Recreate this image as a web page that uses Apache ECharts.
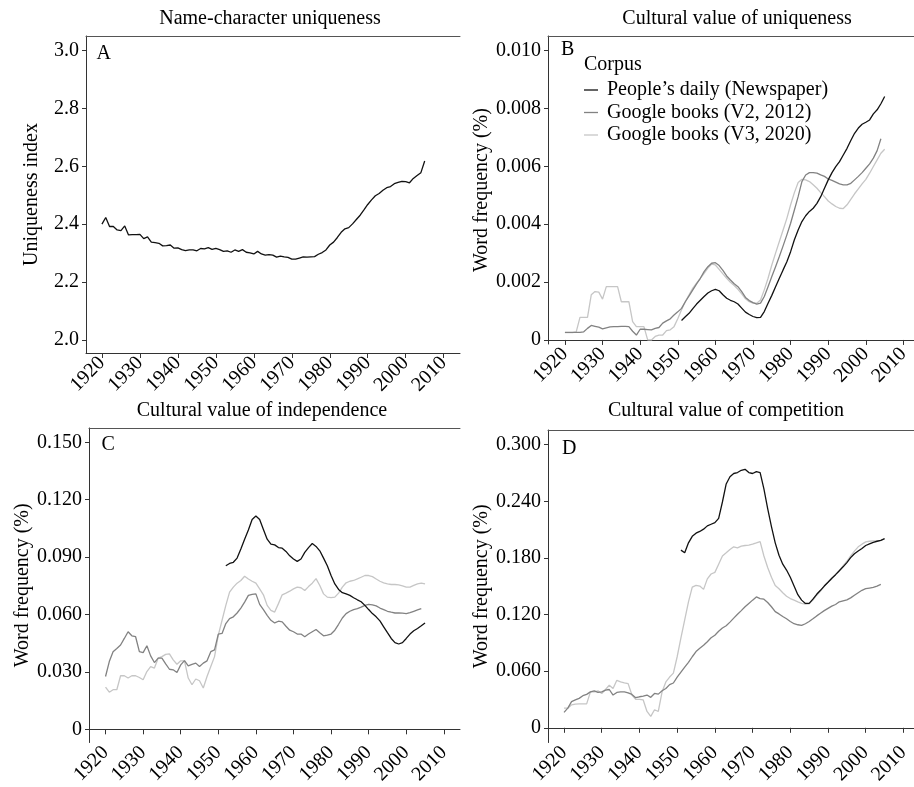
<!DOCTYPE html>
<html><head><meta charset="utf-8">
<script src="https://cdn.jsdelivr.net/npm/echarts@6/dist/echarts.min.js"></script>
<style>html,body{margin:0;padding:0;background:#fff}#c{width:914px;height:787px}</style>
</head><body><div id="c"></div>
<script>
// ---------- data ----------
const xTicks = [1920,1930,1940,1950,1960,1970,1980,1990,2000,2010];
const seriesNames = ["People\u2019s daily (Newspaper)", "Google books (V2, 2012)", "Google books (V3, 2020)"];

// Panel A: name-character uniqueness, 1920-2005
const uniqStart = 1920;
const uniqA = [2.400,2.423,2.392,2.392,2.380,2.378,2.394,2.363,2.364,2.364,
2.365,2.350,2.356,2.338,2.336,2.334,2.325,2.326,2.328,2.317,
2.318,2.312,2.309,2.311,2.311,2.308,2.316,2.315,2.319,2.313,
2.316,2.312,2.306,2.308,2.303,2.311,2.306,2.312,2.303,2.301,
2.297,2.306,2.297,2.293,2.295,2.293,2.286,2.290,2.287,2.285,
2.279,2.279,2.283,2.287,2.286,2.287,2.288,2.296,2.302,2.311,
2.328,2.338,2.354,2.372,2.384,2.388,2.401,2.416,2.431,2.449,
2.468,2.484,2.498,2.506,2.517,2.526,2.530,2.540,2.544,2.548,
2.547,2.543,2.558,2.568,2.578,2.618];
const yTicksA = [2.0,2.2,2.4,2.6,2.8,3.0];

// Panel B: uniqueness word frequency
const bDailyStart = 1951;
const bDaily = [.00067,.00080,.00092,.00108,.00124,.00137,.00150,.00162,.00170,.00175,
.00170,.00156,.00144,.00137,.00132,.00124,.00110,.00096,.00088,.00081,
.00077,.00078,.00098,.00127,.00154,.00184,.00213,.00242,.00270,.00305,
.00346,.00380,.00409,.00429,.00444,.00455,.00472,.00495,.00524,.00553,
.00578,.00599,.00616,.00639,.00662,.00689,.00714,.00732,.00745,.00752,
.00760,.00781,.00795,.00816,.00841];
const bV2Start = 1920;
const bV2 = [.00026,.00026,.00026,.00026,.00026,.00028,.00040,.00050,.00047,.00044,
.00038,.00042,.00045,.00046,.00046,.00047,.00047,.00046,.00030,.00017,
.00037,.00037,.00036,.00035,.00040,.00043,.00058,.00066,.00073,.00086,
.00097,.00109,.00132,.00152,.00173,.00194,.00213,.00236,.00253,.00265,
.00267,.00257,.00240,.00221,.00207,.00194,.00184,.00167,.00147,.00136,
.00129,.00124,.00127,.00150,.00184,.00219,.00253,.00288,.00325,.00363,
.00403,.00449,.00495,.00547,.00570,.00578,.00578,.00576,.00570,.00565,
.00556,.00551,.00545,.00539,.00536,.00536,.00541,.00553,.00565,.00578,
.00593,.00608,.00628,.00654,.00695];
const bV3Start = 1920;
const bV3 = [.00025,.00025,.00025,.00028,.00078,.00078,.00078,.00156,.00167,.00165,
.00141,.00184,.00184,.00184,.00184,.00132,.00132,.00132,.00063,.00046,
.00046,.00046,.00000,.00000,.00012,.00017,.00017,.00032,.00035,.00046,
.00073,.00104,.00132,.00156,.00179,.00196,.00213,.00230,.00248,.00262,
.00259,.00244,.00228,.00213,.00199,.00188,.00175,.00159,.00142,.00132,
.00127,.00127,.00138,.00173,.00213,.00259,.00300,.00340,.00380,.00420,
.00467,.00509,.00544,.00555,.00553,.00547,.00536,.00524,.00509,.00495,
.00480,.00470,.00461,.00455,.00454,.00467,.00486,.00505,.00522,.00539,
.00555,.00576,.00599,.00622,.00645,.00659];
const yTicksB = [0,0.002,0.004,0.006,0.008,0.010];

// Panel C: independence
const cDailyStart = 1952;
const cDaily = [.0855,.0867,.0873,.0895,.0942,.0994,.1042,.1097,.1115,
.1097,.1045,.0994,.0968,.0964,.0950,.0947,.0930,.0907,.0890,
.0878,.0890,.0925,.0950,.0971,.0956,.0933,.0895,.0855,.0804,
.0760,.0731,.0714,.0708,.0700,.0688,.0677,.0667,.0648,.0626,
.0605,.0588,.0567,.0536,.0505,.0475,.0453,.0446,.0453,.0475,
.0498,.0515,.0527,.0541,.0556];
const cV2Start = 1920;
const cV2 = [.0276,.0354,.0406,.0423,.0441,.0475,.0510,.0489,.0484,.0406,
.0401,.0437,.0384,.0349,.0372,.0372,.0342,.0314,.0311,.0297,
.0337,.0359,.0332,.0340,.0346,.0328,.0346,.0358,.0406,.0415,
.0498,.0501,.0553,.0579,.0588,.0608,.0634,.0665,.0700,.0705,
.0708,.0653,.0626,.0596,.0570,.0556,.0565,.0562,.0539,.0518,
.0510,.0498,.0498,.0484,.0498,.0510,.0522,.0505,.0489,.0492,
.0498,.0518,.0549,.0582,.0605,.0617,.0626,.0631,.0639,.0648,
.0653,.0651,.0645,.0634,.0626,.0617,.0612,.0608,.0608,.0607,
.0605,.0610,.0617,.0624,.0631];
const cV3Start = 1920;
const cV3 = [.0221,.0194,.0207,.0207,.0280,.0280,.0268,.0280,.0280,.0271,
.0259,.0302,.0328,.0320,.0372,.0380,.0392,.0394,.0363,.0340,
.0358,.0358,.0268,.0233,.0263,.0254,.0216,.0276,.0328,.0380,
.0492,.0570,.0648,.0717,.0743,.0764,.0778,.0800,.0786,.0774,
.0764,.0734,.0703,.0648,.0622,.0613,.0657,.0703,.0712,.0722,
.0734,.0743,.0740,.0726,.0746,.0764,.0788,.0752,.0708,.0691,
.0688,.0691,.0712,.0743,.0766,.0774,.0778,.0786,.0795,.0804,
.0804,.0798,.0786,.0774,.0766,.0760,.0757,.0757,.0755,.0750,
.0743,.0743,.0752,.0760,.0764,.0760];
const yTicksC = [0,0.03,0.06,0.09,0.12,0.15];

// Panel D: competition
const dDailyStart = 1951;
const dDaily = [.1883,.1855,.1960,.2029,.2063,.2081,.2105,.2140,.2157,.2174,
.2220,.2393,.2584,.2660,.2695,.2705,.2729,.2740,.2705,.2695,
.2715,.2705,.2532,.2324,.2133,.1960,.1828,.1734,.1672,.1595,
.1502,.1411,.1353,.1318,.1318,.1363,.1415,.1457,.1502,.1543,
.1585,.1623,.1665,.1706,.1751,.1803,.1845,.1873,.1900,.1932,
.1949,.1966,.1977,.1987,.2004];
const dV2Start = 1920;
const dV2 = [.0163,.0208,.0277,.0295,.0312,.0340,.0354,.0381,.0392,.0375,
.0381,.0399,.0406,.0347,.0375,.0381,.0381,.0371,.0354,.0319,
.0329,.0336,.0347,.0323,.0364,.0357,.0392,.0416,.0458,.0475,
.0538,.0590,.0642,.0694,.0753,.0808,.0843,.0874,.0912,.0954,
.0981,.1023,.1058,.1082,.1120,.1162,.1203,.1242,.1283,.1318,
.1353,.1387,.1370,.1363,.1328,.1283,.1231,.1207,.1179,.1155,
.1127,.1103,.1092,.1085,.1103,.1127,.1155,.1186,.1214,.1242,
.1266,.1290,.1307,.1335,.1346,.1356,.1377,.1405,.1432,.1457,
.1474,.1481,.1488,.1502,.1519];
const dV3Start = 1920;
const dV3 = [.0208,.0208,.0243,.0250,.0253,.0253,.0253,.0381,.0381,.0392,
.0364,.0406,.0451,.0416,.0503,.0486,.0475,.0468,.0347,.0302,
.0302,.0295,.0173,.0121,.0191,.0173,.0381,.0486,.0538,.0579,
.0753,.0954,.1144,.1335,.1491,.1509,.1502,.1467,.1578,.1630,
.1647,.1734,.1821,.1855,.1890,.1918,.1907,.1925,.1932,.1935,
.1946,.1959,.1973,.1821,.1699,.1595,.1509,.1474,.1432,.1394,
.1370,.1353,.1335,.1318,.1311,.1314,.1353,.1405,.1450,.1498,
.1543,.1578,.1623,.1665,.1717,.1765,.1821,.1873,.1918,.1946,
.1970,.1977,.1980,.1980,.1987,.2001];
const yTicksD = [0,0.06,0.12,0.18,0.24,0.30];

// ---------- chart ----------
const FONT = "'Liberation Serif','DejaVu Serif',serif";
const COLORS = ['#111111', '#828282', '#c6c6c6'];
const AXIS_COLOR = '#333333';
const pairs = (start, arr) => arr.map((v, i) => [start + i, v]);

const grids = [
  {left: 86,  top: 36,  width: 374, height: 317},
  {left: 548, top: 36,  width: 366, height: 308},
  {left: 89,  top: 428, width: 371, height: 317},
  {left: 548, top: 430, width: 366, height: 318}
];
const xRanges = [[1915.8, 2014.3], [1915.5, 2012.8], [1915.6, 2014.3], [1915.75, 2012.8]];
const yRanges = [[1.955, 3.05], [-0.00014, 0.0105], [-0.0069, 0.1575], [-0.0156, 0.3156]];
const yTickSets = [yTicksA, yTicksB, yTicksC, yTicksD];
const yFormat = [
  v => v.toFixed(1),
  v => v === 0 ? '0' : v.toFixed(3),
  v => v === 0 ? '0' : v.toFixed(3),
  v => v === 0 ? '0' : v.toFixed(3)
];
const yNames = ['Uniqueness index', 'Word frequency (%)', 'Word frequency (%)', 'Word frequency (%)'];
const yNameGaps = [44, 54, 56, 56];

const xAxis = [], yAxis = [];
grids.forEach((g, i) => {
  xAxis.push({
    type: 'value', gridIndex: i, min: xRanges[i][0], max: xRanges[i][1], position: 'bottom',
    axisLine: {show: true, lineStyle: {color: AXIS_COLOR, width: 1}},
    axisTick: {show: true, length: 5, customValues: xTicks, lineStyle: {color: AXIS_COLOR}},
    axisLabel: {customValues: xTicks, rotate: 45, margin: 7, color: '#000', fontFamily: FONT, fontSize: 20,
      formatter: v => String(Math.round(v))},
    splitLine: {show: false}
  });
  xAxis.push({
    type: 'value', gridIndex: i, min: xRanges[i][0], max: xRanges[i][1], position: 'top',
    axisLine: {show: true, lineStyle: {color: '#555', width: 1}},
    axisTick: {show: false}, axisLabel: {show: false}, splitLine: {show: false}
  });
  yAxis.push({
    type: 'value', gridIndex: i, min: yRanges[i][0], max: yRanges[i][1],
    name: yNames[i], nameLocation: 'middle', nameGap: yNameGaps[i],
    nameTextStyle: {fontFamily: FONT, fontSize: 20, color: '#000'},
    axisLine: {show: true, lineStyle: {color: AXIS_COLOR, width: 1}},
    axisTick: {show: true, length: 4, customValues: yTickSets[i], lineStyle: {color: AXIS_COLOR}},
    axisLabel: {customValues: yTickSets[i], margin: 7, color: '#000', fontFamily: FONT, fontSize: 20,
      formatter: yFormat[i]},
    splitLine: {show: false}
  });
});

function line(name, data, gi, ci) {
  return {
    type: 'line', name: name, data: data, xAxisIndex: gi * 2, yAxisIndex: gi,
    showSymbol: false, symbol: 'none', smooth: false,
    lineStyle: {color: COLORS[ci], width: 1.3}, itemStyle: {color: COLORS[ci]},
    silent: true, animation: false, z: 10 - ci
  };
}

const series = [
  line(seriesNames[0], pairs(bDailyStart, bDaily), 1, 0),
  line(seriesNames[1], pairs(bV2Start, bV2), 1, 1),
  line(seriesNames[2], pairs(bV3Start, bV3), 1, 2),
  line('Uniqueness index', pairs(uniqStart, uniqA), 0, 0),
  line(seriesNames[0], pairs(cDailyStart, cDaily), 2, 0),
  line(seriesNames[1], pairs(cV2Start, cV2), 2, 1),
  line(seriesNames[2], pairs(cV3Start, cV3), 2, 2),
  line(seriesNames[0], pairs(dDailyStart, dDaily), 3, 0),
  line(seriesNames[1], pairs(dV2Start, dV2), 3, 1),
  line(seriesNames[2], pairs(dV3Start, dV3), 3, 2)
];

function txt(text, x, y, align) {
  return {type: 'text', x: x, y: y, silent: true,
    style: {text: text, font: '20px ' + FONT, fill: '#000', textAlign: align || 'center', textVerticalAlign: 'middle'}};
}

const option = {
  backgroundColor: '#fff',
  animation: false,
  grid: grids,
  xAxis: xAxis,
  yAxis: yAxis,
  series: series,
  legend: {
    data: seriesNames.map(n => ({name: n})),
    orient: 'vertical', left: 584, top: 79, padding: 0,
    icon: 'rect', itemWidth: 14, itemHeight: 1.3, itemGap: 0.5,
    selectedMode: false,
    textStyle: {fontFamily: FONT, fontSize: 20, color: '#000', lineHeight: 22, padding: [0, 0, 0, 4]}
  },
  graphic: [
    txt('Name-character uniqueness', 270, 19),
    txt('Cultural value of uniqueness', 737, 19),
    txt('Cultural value of independence', 262, 411),
    txt('Cultural value of competition', 726, 411),
    txt('A', 96.5, 54, 'left'),
    txt('B', 561, 49.5, 'left'),
    txt('C', 101.5, 444.5, 'left'),
    txt('D', 562, 448.5, 'left'),
    txt('Corpus', 584, 64.5, 'left')
  ]
};

const chart = echarts.init(document.getElementById('c'), null, {renderer: 'canvas'});
chart.setOption(option);
</script>
</body></html>
